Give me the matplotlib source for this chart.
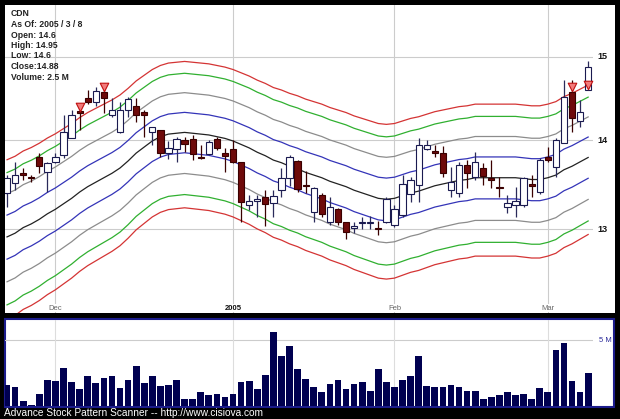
import matplotlib
matplotlib.use('Agg')
import matplotlib.pyplot as plt
from matplotlib.patches import Rectangle
from matplotlib.transforms import offset_copy

# daily candles, 2004-11-22 .. 2005-03-08 (index = trading day)
opens = [13.40, 13.51, 13.62, 13.58, 13.80, 13.64, 13.75, 13.83, 14.03, 14.34,
         14.50, 14.45, 14.57, 14.29, 14.09, 14.35, 14.40, 14.33, 14.09, 14.12,
         13.85, 13.90, 14.00, 14.01, 13.80, 13.84, 14.01, 13.85, 13.90, 13.75,
         13.27, 13.31, 13.35, 13.29, 13.43, 13.57, 13.76, 13.49, 13.19, 13.38,
         13.08, 13.22, 13.08, 13.02, 13.07, 13.07, 13.02, 13.08, 13.05, 13.16,
         13.39, 13.49, 13.90, 13.87, 13.85, 13.43, 13.40, 13.71, 13.58, 13.68,
         13.57, 13.47, 13.24, 13.27, 13.27, 13.50, 13.41, 13.80, 13.69, 13.97,
         14.57, 14.22, 14.60]
highs = [13.60, 13.75, 13.68, 13.60, 13.85, 13.75, 13.85, 14.29, 14.35, 14.39,
         14.59, 14.63, 14.62, 14.50, 14.45, 14.51, 14.50, 14.35, 14.15, 14.12,
         13.99, 14.04, 14.04, 14.06, 13.94, 14.00, 14.04, 13.91, 14.00, 13.75,
         13.38, 13.38, 13.43, 13.43, 13.68, 13.83, 13.77, 13.65, 13.47, 13.40,
         13.35, 13.23, 13.08, 13.08, 13.14, 13.15, 13.09, 13.35, 13.27, 13.60,
         13.58, 14.02, 14.00, 13.94, 13.93, 13.69, 13.75, 13.77, 13.86, 13.74,
         13.77, 13.58, 13.38, 13.47, 13.58, 13.60, 13.79, 13.92, 14.03, 14.71,
         14.71, 14.47, 14.95]
lows = [13.24, 13.43, 13.54, 13.52, 13.62, 13.41, 13.74, 13.79, 14.02, 14.12,
        14.43, 14.40, 14.32, 14.27, 14.08, 14.27, 14.21, 14.04, 13.94, 13.80,
        13.78, 13.75, 13.86, 13.77, 13.78, 13.83, 13.89, 13.64, 13.74, 13.08,
        13.21, 13.13, 13.04, 13.13, 13.35, 13.48, 13.41, 13.40, 13.08, 13.14,
        13.05, 13.05, 12.90, 12.96, 13.00, 13.00, 12.94, 13.07, 13.03, 13.13,
        13.30, 13.30, 13.88, 13.80, 13.58, 13.35, 13.35, 13.46, 13.54, 13.49,
        13.46, 13.35, 13.18, 13.13, 13.24, 13.35, 13.39, 13.75, 13.58, 13.97,
        14.09, 14.15, 14.60]
closes = [13.57, 13.60, 13.60, 13.57, 13.70, 13.74, 13.80, 14.09, 14.30, 14.32,
          14.45, 14.58, 14.50, 14.36, 14.35, 14.48, 14.29, 14.29, 14.15, 13.85,
          13.91, 14.01, 13.95, 13.84, 13.79, 13.98, 13.91, 13.82, 13.75, 13.30,
          13.31, 13.33, 13.28, 13.37, 13.57, 13.80, 13.44, 13.48, 13.45, 13.17,
          13.24, 13.08, 12.97, 13.04, 13.08, 13.08, 13.01, 13.33, 13.22, 13.50,
          13.54, 13.94, 13.94, 13.85, 13.62, 13.52, 13.71, 13.62, 13.75, 13.59,
          13.54, 13.46, 13.29, 13.31, 13.57, 13.48, 13.77, 13.77, 14.00, 14.51,
          14.26, 14.33, 14.88]
# volume in millions
volume = [1.61, 1.46, 0.40, 0.08, 0.91, 1.97, 1.89, 2.88, 1.82, 1.26,
          2.25, 1.74, 2.10, 2.25, 1.36, 1.97, 3.03, 1.74, 2.30, 1.52,
          1.61, 1.97, 0.55, 0.55, 1.08, 0.83, 0.91, 0.68, 0.91, 1.82,
          1.89, 1.29, 2.35, 5.61, 3.79, 4.55, 2.78, 2.02, 1.44, 1.06,
          1.67, 1.95, 1.26, 1.67, 1.82, 1.16, 2.78, 1.82, 1.46, 1.95,
          2.25, 3.79, 1.52, 1.44, 1.41, 1.57, 1.44, 1.11, 1.14, 0.51,
          0.71, 0.86, 1.04, 0.81, 0.88, 0.53, 1.34, 1.04, 4.27, 4.75,
          1.89, 1.08, 2.52]
# band centre line
middle = [12.92, 12.96, 13.02, 13.06, 13.11, 13.17, 13.22, 13.28, 13.34, 13.41,
          13.47, 13.52, 13.57, 13.62, 13.68, 13.76, 13.85, 13.92, 13.99, 14.04,
          14.07, 14.08, 14.09, 14.08, 14.07, 14.06, 14.04, 14.02, 13.99, 13.95,
          13.91, 13.86, 13.82, 13.77, 13.74, 13.70, 13.67, 13.63, 13.60, 13.57,
          13.53, 13.50, 13.47, 13.43, 13.40, 13.37, 13.34, 13.33, 13.34, 13.37,
          13.40, 13.42, 13.45, 13.48, 13.50, 13.52, 13.54, 13.55, 13.57, 13.57,
          13.57, 13.57, 13.57, 13.57, 13.56, 13.55, 13.55, 13.57, 13.60, 13.66,
          13.70, 13.75, 13.80]
band_offsets = [0.236, 0.472, 0.708, 0.854]
band_colors = ['#3434b8', '#8c8c8c', '#30b030', '#d43434']
signal_days = [9, 12, 70, 72]

month_idx = [6, 28, 48, 67]
month_labels = ['Dec', '2005', 'Feb', 'Mar']
price_ticks = [13, 14, 15]
info_lines = ['CDN', 'As Of: 2005 / 3 / 8', 'Open: 14.6', 'High: 14.95',
              'Low: 14.6', 'Close:14.88', 'Volume: 2.5 M']

W, H = 620, 419
def fx(px):
    return px / W
def fy(py):
    return 1 - py / H

plt.rcParams['font.family'] = ['Liberation Sans', 'DejaVu Sans']
fig = plt.figure(figsize=(6.2, 4.19), dpi=100, facecolor='black')

# white panels
fig.patches.append(Rectangle((fx(5), fy(313)), 610 / W, 308 / H, transform=fig.transFigure,
                             facecolor='white', edgecolor='none', zorder=-5))
fig.patches.append(Rectangle((fx(4.5), fy(406.5)), 609 / W, 88 / H, transform=fig.transFigure,
                             facecolor='white', edgecolor='#1c1c8c', lw=1.5, zorder=-5))

x = list(range(len(closes)))

# price panel
ax = fig.add_axes([fx(5), fy(313), 588 / W, 308 / H])
ax.set_axis_off()
ax.set_yscale('log')
ax.set_xlim(-0.25, 72.6)
ax.set_ylim(12.13, 15.66)
for v in price_ticks:
    ax.axhline(v, color='#cccccc', lw=0.8, zorder=0)
    ax.annotate(str(v), xy=(1, v), xycoords=('axes fraction', 'data'), xytext=(3, 0),
                textcoords='offset points', ha='left', va='center', fontsize=6.5,
                fontweight='bold', color='#111111', annotation_clip=False)
for m, lab in zip(month_idx, month_labels):
    ax.axvline(m, color='#cccccc', lw=0.8, zorder=0)
    ax.annotate(lab, xy=(m, 0), xycoords=('data', 'axes fraction'), xytext=(0, 1),
                textcoords='offset points', ha='center', va='bottom', fontsize=5.5,
                fontweight='bold' if lab == '2005' else 'normal',
                color='#111111' if lab == '2005' else '#666666',
                bbox=dict(facecolor='white', edgecolor='none', pad=0.6))

ax.plot(x, middle, color='#222222', lw=0.9, zorder=1)
for k, c in zip(band_offsets, band_colors):
    ax.plot(x, [m + k for m in middle], color=c, lw=0.9, zorder=1)
    ax.plot(x, [m - k for m in middle], color=c, lw=0.9, zorder=1)

up = [c >= o for o, c in zip(opens, closes)]
wick_cols = ['#2a2a5a' if u else '#3a0000' for u in up]
ax.vlines(x, lows, highs, colors=wick_cols, lw=0.9, zorder=2)
bottoms = [min(o, c) for o, c in zip(opens, closes)]
heights = [max(abs(c - o), 0.004) for o, c in zip(opens, closes)]
ax.bar(x, heights, bottom=bottoms, width=0.78,
       color=['white' if u else '#6e0a0a' for u in up],
       edgecolor=['#1a1a50' if u else '#3a0000' for u in up], lw=0.8, zorder=3)

tri_tr = offset_copy(ax.transData, fig=fig, x=0, y=4.5, units='dots')
ax.scatter(signal_days, [opens[i] for i in signal_days], marker='v', s=38,
           facecolor='#f27a7a', edgecolor='#c01010', lw=0.8, zorder=4, transform=tri_tr)

for j, line in enumerate(info_lines):
    fig.text(fx(11), fy(14 + j * 10.5), line, fontsize=6.2, fontweight='bold',
             color='#222222', va='center', ha='left')

# volume panel
axv = fig.add_axes([fx(5), fy(406), 588 / W, 86 / H])
axv.set_axis_off()
axv.set_xlim(-0.25, 72.6)
axv.set_ylim(0, 6.52)
axv.axhline(5, color='#cccccc', lw=0.8, zorder=0)
for m in month_idx:
    axv.axvline(m, color='#dddddd', lw=0.8, zorder=0)
axv.bar(x, volume, width=0.83, color='#000050', zorder=2)
axv.annotate('5 M', xy=(1, 5), xycoords=('axes fraction', 'data'), xytext=(4, 0),
             textcoords='offset points', ha='left', va='center', fontsize=5.5,
             color='#2a2a9a', annotation_clip=False)

fig.text(fx(4), fy(413), 'Advance Stock Pattern Scanner -- http://www.cisiova.com',
         color='white', fontsize=7.3, va='center', ha='left')

fig.savefig('out.png', dpi=100, facecolor='black')
